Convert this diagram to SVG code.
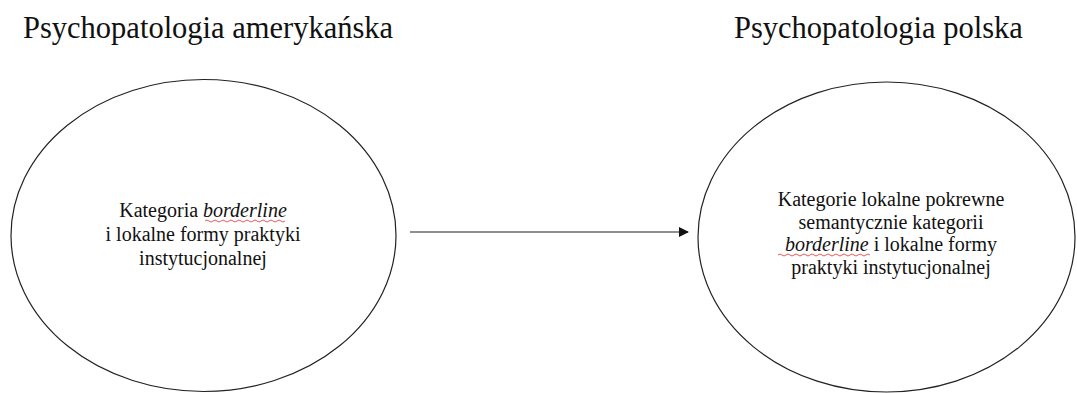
<svg xmlns="http://www.w3.org/2000/svg" width="1077" height="393" viewBox="0 0 1077 393">
<style>
.t{font-family:"Liberation Serif","Times New Roman",serif;fill:#111}
.title{font-size:30.5px}
.body{font-size:20px;text-anchor:middle}
.shape{fill:none;stroke:#222;stroke-width:1.2}
.line{stroke:#222;stroke-width:1.2;fill:none}
.sq{fill:none;stroke:#e03030;stroke-width:0.8}
</style>
<defs>
<marker id="ah" markerWidth="10" markerHeight="10" refX="9" refY="5" orient="auto" markerUnits="userSpaceOnUse">
<path d="M0,0 L10,5 L0,10 Z" fill="#111"/>
</marker>
</defs>
<rect width="1077" height="393" fill="#fff"/>
<text class="t title" x="23" y="38">Psychopatologia amerykańska</text>
<text class="t title" x="734" y="38">Psychopatologia polska</text>
<g id="node-american">
<ellipse class="shape" cx="203.5" cy="235.5" rx="192.5" ry="156"/>
<text class="t body" x="203" y="217">Kategoria <tspan font-style="italic">borderline</tspan></text>
<text class="t body" x="203" y="241">i lokalne formy praktyki</text>
<text class="t body" x="203" y="265">instytucjonalnej</text>
<path class="sq" d="M205,221 q2,-2 4,0 t4,0 t4,0 t4,0 t4,0 t4,0 t4,0 t4,0 t4,0 t4,0 t4,0 t4,0 t4,0 t4,0 t4,0 t4,0 t4,0 t4,0 t4,0 t4,0"/>
</g>
<g id="node-polish">
<ellipse class="shape" cx="886.5" cy="237" rx="188.5" ry="155"/>
<text class="t body" x="891" y="206">Kategorie lokalne pokrewne</text>
<text class="t body" x="891" y="228.5">semantycznie kategorii</text>
<text class="t body" x="891" y="251"><tspan font-style="italic">borderline</tspan> i lokalne formy</text>
<text class="t body" x="891" y="273.5">praktyki instytucjonalnej</text>
<path class="sq" d="M778,255 q2,-2 4,0 t4,0 t4,0 t4,0 t4,0 t4,0 t4,0 t4,0 t4,0 t4,0 t4,0 t4,0 t4,0 t4,0 t4,0 t4,0 t4,0 t4,0 t4,0 t4,0 t4,0 t4,0 t4,0"/>
</g>
<g id="connectors">
<line class="line" x1="410" y1="232" x2="688" y2="232" marker-end="url(#ah)"/>
</g>
</svg>
